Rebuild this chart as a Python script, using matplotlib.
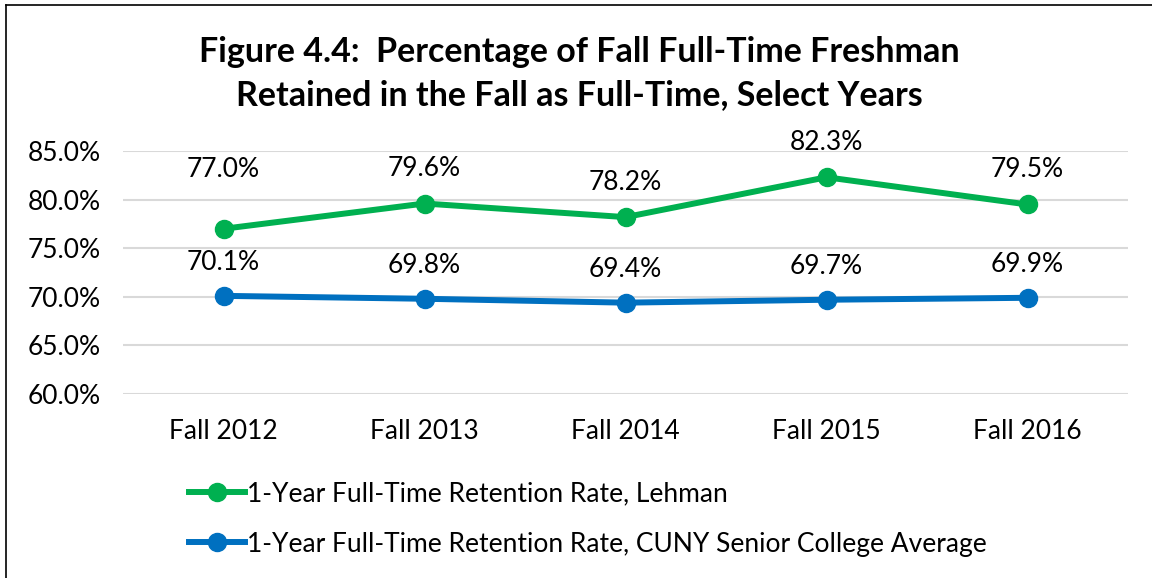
import matplotlib
matplotlib.use('Agg')
import matplotlib.pyplot as plt
from matplotlib.lines import Line2D

plt.rcParams['font.family'] = ['Lato', 'DejaVu Sans']

years = ['Fall 2012', 'Fall 2013', 'Fall 2014', 'Fall 2015', 'Fall 2016']
lehman = [77.0, 79.6, 78.2, 82.3, 79.5]
cuny = [70.1, 69.8, 69.4, 69.7, 69.9]
lehman_label = '1-Year Full-Time Retention Rate, Lehman'
cuny_label = '1-Year Full-Time Retention Rate, CUNY Senior College Average'
green = '#00B050'
blue = '#0070C0'

fig = plt.figure(figsize=(11.52, 5.78), dpi=100)
ax = fig.add_axes([0.1068, 0.3183, 0.8724, 0.4204])

x = list(range(len(years)))
ax.plot(x, lehman, color=green, lw=4.3, marker='o', ms=13, solid_capstyle='round')
ax.plot(x, cuny, color=blue, lw=4.3, marker='o', ms=13, solid_capstyle='round')

for i in x:
    # first green label sits higher in the original, clear of the blue one
    dy = 43 if i == 0 else 25
    ax.annotate('%.1f%%' % lehman[i], (i, lehman[i]), xytext=(0, dy),
                textcoords='offset points', ha='center', va='center', fontsize=19)
    ax.annotate('%.1f%%' % cuny[i], (i, cuny[i]), xytext=(0, 24),
                textcoords='offset points', ha='center', va='center', fontsize=19)

ax.set_xlim(-0.5, len(years) - 0.5)
ax.set_ylim(60, 85)
ax.set_yticks([60, 65, 70, 75, 80, 85])
ax.set_yticklabels(['%.1f%%' % v for v in [60, 65, 70, 75, 80, 85]], fontsize=19)
ax.set_xticks(x)
ax.set_xticklabels(years, fontsize=19)
ax.tick_params(length=0)
ax.tick_params(axis='x', pad=18)
ax.tick_params(axis='y', pad=16)
ax.grid(axis='y', color='#D9D9D9', lw=1.5)
ax.set_axisbelow(True)
for s in ax.spines.values():
    s.set_visible(False)

fig.text(0.503, 0.873, 'Figure 4.4:  Percentage of Fall Full-Time Freshman\nRetained in the Fall as Full-Time, Select Years',
         ha='center', va='center', fontsize=24.5, fontweight='bold', linespacing=1.45)

handles = [Line2D([], [], color=green, lw=4.3, marker='o', ms=13),
           Line2D([], [], color=blue, lw=4.3, marker='o', ms=13)]
fig.legend(handles, [lehman_label, cuny_label], loc='upper left', bbox_to_anchor=(0.155, 0.185),
           frameon=False, fontsize=19, handlelength=2.1, handletextpad=0.1, labelspacing=0.95,
           borderaxespad=0)

fig.add_artist(Line2D([0.005, 0.005], [0, 0.992], color='black', lw=1.2))
fig.add_artist(Line2D([0.005, 1], [0.992, 0.992], color='black', lw=1.2))

fig.savefig('out.png', dpi=100)
